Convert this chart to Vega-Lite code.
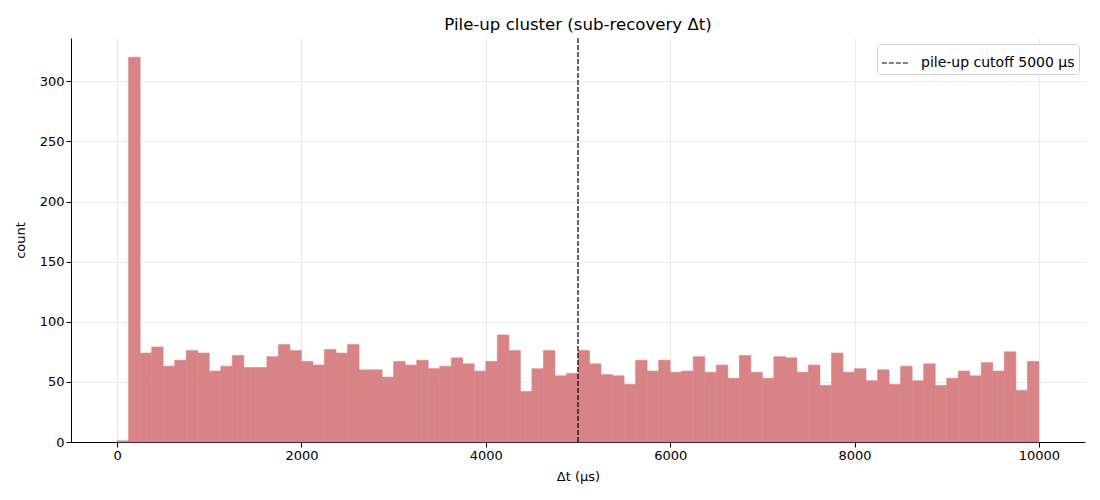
{
  "$schema": "https://vega.github.io/schema/vega-lite/v6.json",
  "width": 1014,
  "height": 404,
  "autosize": {"type": "none"},
  "padding": {"left": 71, "top": 38, "right": 15, "bottom": 58},
  "background": "white",
  "config": {
    "view": {"stroke": null},
    "font": "DejaVu Sans",
    "axis": {
      "labelFont": "DejaVu Sans",
      "titleFont": "DejaVu Sans",
      "labelFontSize": 13,
      "titleFontSize": 13,
      "titleFontWeight": "normal",
      "labelColor": "black",
      "titleColor": "black",
      "domainColor": "black",
      "tickColor": "black",
      "tickSize": 5,
      "gridColor": "#e6e6e6",
      "gridWidth": 0.8
    }
  },
  "title": {
    "text": "Pile-up cluster (sub-recovery Δt)",
    "font": "DejaVu Sans",
    "fontSize": 16.6,
    "fontWeight": "normal",
    "color": "black",
    "offset": 4
  },
  "layer": [
    {
      "data": {
        "values": [
          {"start": 0, "end": 125, "count": 1},
          {"start": 125, "end": 250, "count": 320},
          {"start": 250, "end": 375, "count": 74},
          {"start": 375, "end": 500, "count": 79},
          {"start": 500, "end": 625, "count": 63},
          {"start": 625, "end": 750, "count": 68},
          {"start": 750, "end": 875, "count": 76},
          {"start": 875, "end": 1000, "count": 74},
          {"start": 1000, "end": 1125, "count": 59},
          {"start": 1125, "end": 1250, "count": 63},
          {"start": 1250, "end": 1375, "count": 72},
          {"start": 1375, "end": 1500, "count": 62},
          {"start": 1500, "end": 1625, "count": 62},
          {"start": 1625, "end": 1750, "count": 71},
          {"start": 1750, "end": 1875, "count": 81},
          {"start": 1875, "end": 2000, "count": 76},
          {"start": 2000, "end": 2125, "count": 67},
          {"start": 2125, "end": 2250, "count": 64},
          {"start": 2250, "end": 2375, "count": 77},
          {"start": 2375, "end": 2500, "count": 74},
          {"start": 2500, "end": 2625, "count": 81},
          {"start": 2625, "end": 2750, "count": 60},
          {"start": 2750, "end": 2875, "count": 60},
          {"start": 2875, "end": 3000, "count": 54},
          {"start": 3000, "end": 3125, "count": 67},
          {"start": 3125, "end": 3250, "count": 64},
          {"start": 3250, "end": 3375, "count": 68},
          {"start": 3375, "end": 3500, "count": 61},
          {"start": 3500, "end": 3625, "count": 63},
          {"start": 3625, "end": 3750, "count": 70},
          {"start": 3750, "end": 3875, "count": 65},
          {"start": 3875, "end": 4000, "count": 59},
          {"start": 4000, "end": 4125, "count": 67},
          {"start": 4125, "end": 4250, "count": 89},
          {"start": 4250, "end": 4375, "count": 76},
          {"start": 4375, "end": 4500, "count": 42},
          {"start": 4500, "end": 4625, "count": 61},
          {"start": 4625, "end": 4750, "count": 76},
          {"start": 4750, "end": 4875, "count": 55},
          {"start": 4875, "end": 5000, "count": 57},
          {"start": 5000, "end": 5125, "count": 76},
          {"start": 5125, "end": 5250, "count": 65},
          {"start": 5250, "end": 5375, "count": 56},
          {"start": 5375, "end": 5500, "count": 55},
          {"start": 5500, "end": 5625, "count": 48},
          {"start": 5625, "end": 5750, "count": 68},
          {"start": 5750, "end": 5875, "count": 59},
          {"start": 5875, "end": 6000, "count": 68},
          {"start": 6000, "end": 6125, "count": 58},
          {"start": 6125, "end": 6250, "count": 59},
          {"start": 6250, "end": 6375, "count": 71},
          {"start": 6375, "end": 6500, "count": 58},
          {"start": 6500, "end": 6625, "count": 64},
          {"start": 6625, "end": 6750, "count": 53},
          {"start": 6750, "end": 6875, "count": 72},
          {"start": 6875, "end": 7000, "count": 58},
          {"start": 7000, "end": 7125, "count": 53},
          {"start": 7125, "end": 7250, "count": 71},
          {"start": 7250, "end": 7375, "count": 70},
          {"start": 7375, "end": 7500, "count": 58},
          {"start": 7500, "end": 7625, "count": 64},
          {"start": 7625, "end": 7750, "count": 47},
          {"start": 7750, "end": 7875, "count": 74},
          {"start": 7875, "end": 8000, "count": 58},
          {"start": 8000, "end": 8125, "count": 61},
          {"start": 8125, "end": 8250, "count": 51},
          {"start": 8250, "end": 8375, "count": 60},
          {"start": 8375, "end": 8500, "count": 48},
          {"start": 8500, "end": 8625, "count": 63},
          {"start": 8625, "end": 8750, "count": 51},
          {"start": 8750, "end": 8875, "count": 65},
          {"start": 8875, "end": 9000, "count": 47},
          {"start": 9000, "end": 9125, "count": 53},
          {"start": 9125, "end": 9250, "count": 59},
          {"start": 9250, "end": 9375, "count": 55},
          {"start": 9375, "end": 9500, "count": 66},
          {"start": 9500, "end": 9625, "count": 59},
          {"start": 9625, "end": 9750, "count": 75},
          {"start": 9750, "end": 9875, "count": 43},
          {"start": 9875, "end": 10000, "count": 67}
        ]
      },
      "mark": {"type": "bar", "color": "#d88486", "stroke": "#d88486", "strokeWidth": 0.6},
      "encoding": {
        "x": {
          "field": "start",
          "type": "quantitative",
          "scale": {"domain": [-500, 10500], "nice": false, "zero": false},
          "axis": {
            "title": "Δt (µs)",
            "values": [0, 2000, 4000, 6000, 8000, 10000],
            "format": "d",
            "grid": true,
            "titlePadding": 8
          }
        },
        "x2": {"field": "end"},
        "y": {
          "field": "count",
          "type": "quantitative",
          "scale": {"domain": [0, 336], "nice": false, "padding": 0},
          "axis": {
            "title": "count",
            "values": [0, 50, 100, 150, 200, 250, 300],
            "grid": true,
            "titlePadding": 12
          }
        },
        "y2": {"datum": 0}
      }
    },
    {
      "data": {"values": [{"cutoff": 5000, "label": "pile-up cutoff 5000 µs"}]},
      "mark": {"type": "rule", "color": "black", "strokeWidth": 1.2},
      "encoding": {
        "x": {"field": "cutoff", "type": "quantitative"},
        "strokeDash": {
          "field": "label",
          "type": "nominal",
          "scale": {"range": [[5, 2]]},
          "legend": {
            "title": null,
            "orient": "top-right",
            "offset": 6,
            "symbolType": "stroke",
            "symbolSize": 800,
            "symbolStrokeColor": "black",
            "symbolStrokeWidth": 1.2,
            "labelFont": "DejaVu Sans",
            "labelFontSize": 14,
            "labelColor": "black",
            "labelOffset": 10,
            "fillColor": "white",
            "strokeColor": "#d0d0d0",
            "cornerRadius": 3,
            "padding": 4
          }
        }
      }
    }
  ]
}
